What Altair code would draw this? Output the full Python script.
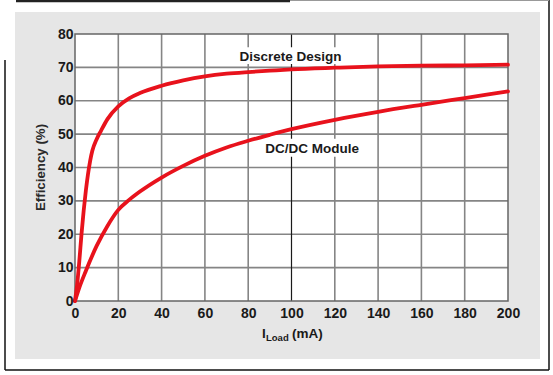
import altair as alt
import pandas as pd

# ---- data ----
discrete_x = [0, 1, 2, 3, 4, 5, 6, 7, 8, 10, 12, 15, 20, 25, 30, 40, 50, 60, 70, 80, 90, 100, 120, 140, 160, 180, 200]
discrete_y = [0, 5, 12, 20, 27, 33, 38, 42, 45, 48.5, 51, 54.5, 58.3, 60.7, 62.3, 64.5, 66.1, 67.3, 68.1, 68.6, 69.0, 69.4, 69.9, 70.3, 70.5, 70.6, 70.8]
module_x = [0, 2, 5, 10, 15, 20, 25, 30, 40, 50, 60, 70, 80, 90, 100, 120, 140, 160, 180, 200]
module_y = [0, 4, 9, 16.5, 22.5, 27.3, 30.3, 32.8, 37, 40.5, 43.5, 46, 48, 49.8, 51.5, 54.3, 56.7, 58.8, 60.8, 62.8]

x_ticks = [0, 20, 40, 60, 80, 100, 120, 140, 160, 180, 200]
y_ticks = [0, 10, 20, 30, 40, 50, 60, 70, 80]
x_grid = [20, 40, 60, 80, 120, 140, 160, 180]
x_grid_dark = [100]
y_grid = [10, 20, 30, 40, 50, 60, 70]

label_text = ["Discrete Design", "DC/DC Module"]
label_x = [99.5, 109.5]
label_y = [72.0, 44.3]
label_halfwidth = [24.5, 23.5]
label_bg_lo = [71.0, 43.2]
label_bg_hi = [76.0, 48.6]

RED = "#e8121c"
FONT = "Liberation Sans"
W, H = 433, 267

curves = pd.concat([
    pd.DataFrame({"x": discrete_x, "y": discrete_y, "s": "Discrete Design"}),
    pd.DataFrame({"x": module_x, "y": module_y, "s": "DC/DC Module"}),
])
labels = pd.DataFrame({
    "t": label_text, "x": label_x, "y": label_y,
    "x0": [a - b for a, b in zip(label_x, label_halfwidth)],
    "x1": [a + b for a, b in zip(label_x, label_halfwidth)],
    "y0": label_bg_lo, "y1": label_bg_hi,
})

xs = alt.Scale(domain=[0, 200], nice=False)
ys = alt.Scale(domain=[0, 80], nice=False)
one = pd.DataFrame({"a": [0]})

XA = alt.Axis(values=x_ticks, grid=False, ticks=False, domain=False, labelPadding=5,
              labelFont=FONT, labelFontSize=14, labelFontWeight="bold",
              labelColor="#1a1a1a", zindex=1, labelFlush=False, labelOverlap=False, title=None)
YA = alt.Axis(values=y_ticks, grid=False, ticks=False, domain=False, labelPadding=2,
              labelFont=FONT, labelFontSize=14, labelFontWeight="bold",
              labelColor="#1a1a1a", zindex=1, labelFlush=False, labelOverlap=False,
              title="Efficiency (%)", titleFont=FONT, titleFontSize=13.3,
              titleFontWeight="bold", titleColor="#2a2a2a", titleX=-35, titleY=133,
              titleAngle=270, titleAlign="center", titleBaseline="middle")

# background panel
panel = alt.Chart(one).mark_rect(fill="#e6e6e6").encode(
    x=alt.value(-60), x2=alt.value(465), y=alt.value(-22), y2=alt.value(325))
plotbg = alt.Chart(one).mark_rect(fill="white").encode(
    x=alt.value(0), x2=alt.value(W), y=alt.value(0), y2=alt.value(H))

gx = alt.Chart(pd.DataFrame({"v": x_grid})).mark_rule(color="#858585", strokeWidth=1.6).encode(
    x=alt.X("v:Q", scale=xs, axis=XA))
gxd = alt.Chart(pd.DataFrame({"v": x_grid_dark})).mark_rule(color="#1a1a1a", strokeWidth=1.2).encode(
    x=alt.X("v:Q", scale=xs, axis=XA))
gy = alt.Chart(pd.DataFrame({"v": y_grid})).mark_rule(color="#858585", strokeWidth=1.6).encode(
    y=alt.Y("v:Q", scale=ys, axis=YA))

border = alt.Chart(one).mark_rect(fill=None, stroke="#666666", strokeWidth=1.5).encode(
    x=alt.value(0), x2=alt.value(W), y=alt.value(0), y2=alt.value(H))

lblbg = alt.Chart(labels).mark_rect(fill="white").encode(
    x=alt.X("x0:Q", scale=xs, axis=XA), x2="x1:Q",
    y=alt.Y("y0:Q", scale=ys, axis=YA), y2="y1:Q")

lines = alt.Chart(curves).mark_line(strokeWidth=3.8, interpolate="monotone", strokeCap="round").encode(
    x=alt.X("x:Q", scale=xs, axis=XA),
    y=alt.Y("y:Q", scale=ys, axis=YA),
    detail="s:N",
    color=alt.value(RED),
)

texts = alt.Chart(labels).mark_text(font=FONT, fontSize=13.5, fontWeight="bold", color="#1a1a1a",
                                    align="center", baseline="alphabetic").encode(
    x=alt.X("x:Q", scale=xs, axis=XA), y=alt.Y("y:Q", scale=ys, axis=YA), text="t:N")

tI = alt.Chart(one).mark_text(text="I", font=FONT, fontSize=13.5, fontWeight="bold", color="#1a1a1a",
                              align="left", baseline="alphabetic").encode(x=alt.value(187), y=alt.value(304))
tL = alt.Chart(one).mark_text(text="Load", font=FONT, fontSize=9.5, fontWeight="bold", color="#1a1a1a",
                              align="left", baseline="alphabetic").encode(x=alt.value(191), y=alt.value(307))
tM = alt.Chart(one).mark_text(text="(mA)", font=FONT, fontSize=13.5, fontWeight="bold", color="#1a1a1a",
                              align="left", baseline="alphabetic").encode(x=alt.value(217), y=alt.value(304))

# frame lines outside the panel
f_left = alt.Chart(one).mark_rule(color="#111111", strokeWidth=1.5).encode(
    x=alt.value(-70), y=alt.value(26), y2=alt.value(336))
f_bottom = alt.Chart(one).mark_rule(color="#111111", strokeWidth=1.5).encode(
    x=alt.value(-70), x2=alt.value(474), y=alt.value(336))
f_right = alt.Chart(one).mark_rule(color="#111111", strokeWidth=1.5).encode(
    x=alt.value(474), y=alt.value(-34), y2=alt.value(336))
f_top = alt.Chart(one).mark_rule(color="#222222", strokeWidth=2.5).encode(
    x=alt.value(-59), x2=alt.value(215), y=alt.value(-33))
f_top2 = alt.Chart(one).mark_rule(color="#999999", strokeWidth=1).encode(
    x=alt.value(215), x2=alt.value(474), y=alt.value(-33.5))

chart = alt.layer(
    panel, plotbg, gx, gy, gxd, lblbg, border, lines, texts, tI, tL, tM,
    f_left, f_bottom, f_right, f_top, f_top2,
).properties(
    width=W, height=H,
    padding={"left": 75, "top": 34, "right": 45, "bottom": 74},
    autosize=alt.AutoSizeParams(type="none"),
    background="white",
).configure_view(stroke=None)

chart.save("out.html", embed_options={"renderer": "svg", "actions": False})
